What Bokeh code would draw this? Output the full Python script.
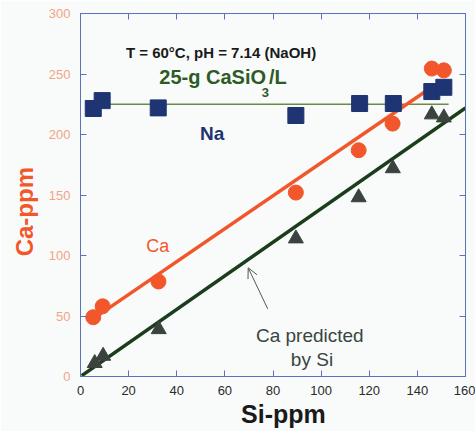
import math
from bokeh.plotting import figure
from bokeh.models import Range1d, LinearAxis, Label, Arrow, OpenHead, FixedTicker, Title
from bokeh.embed import file_html
from bokeh.resources import INLINE

# ---- data ----
si_ca = [5.3, 9.2, 32.4, 89.5, 115.6, 129.7, 146.0, 151.0]
ca_ppm = [49, 58, 78.5, 152, 187, 209, 254.5, 253]

si_pred = [5.9, 9.4, 32.5, 89.5, 115.6, 129.8, 146.0, 151.0]
ca_pred = [11, 17, 39, 114, 148, 172, 216.5, 214]

si_na = [5.3, 9.0, 32.3, 89.5, 116.0, 130.0, 146.0, 151.0]
na_ppm = [221.5, 228, 222, 215.7, 225.6, 225.6, 235.5, 239]

ca_fit_x = [4, 145]
ca_fit_y = [46, 237.8]
pred_fit_x = [0.5, 160]
pred_fit_y = [0.7, 222]
na_fit_x = [3, 153]
na_fit_y = [225, 225]

x_ticks = [0, 20, 40, 60, 80, 100, 120, 140, 160]
y_ticks = [0, 50, 100, 150, 200, 250, 300]

BG = "#f8fbfa"
AXC = "#5b72c0"
ORANGE = "#f2572c"
NAVY = "#1f3473"
TRI = "#3b433f"
DKGREEN = "#1b3d1c"
NB = "\u00a0"

p = figure(width=475, height=431, output_backend="svg", toolbar_location=None,
           x_range=Range1d(0, 160), y_range=Range1d(0, 300),
           min_border_left=79, min_border_right=10, min_border_top=13, min_border_bottom=55)
p.background_fill_color = BG
p.border_fill_color = BG
p.outline_line_color = AXC
p.outline_line_width = 1
p.xgrid.visible = False
p.ygrid.visible = False

def style_axis(ax, ticks, show_labels, color):
    ax.ticker = FixedTicker(ticks=ticks)
    ax.major_tick_in = 6
    ax.major_tick_out = 0
    ax.minor_tick_line_color = None
    ax.major_tick_line_color = AXC
    ax.axis_line_color = AXC
    ax.major_label_text_font = "Liberation Sans"
    ax.major_label_text_font_size = "13px"
    ax.major_label_text_color = color
    if not show_labels:
        ax.major_label_text_alpha = 0
        ax.major_label_text_font_size = "1px"

style_axis(p.xaxis[0], x_ticks, True, "#2a2a2a")
p.xaxis[0].major_label_standoff = 9
style_axis(p.yaxis[0], y_ticks, True, "#f4a383")
p.yaxis[0].major_label_standoff = 10

top = LinearAxis()
style_axis(top, x_ticks, False, "#000")
p.add_layout(top, "above")
right = LinearAxis()
style_axis(right, y_ticks, False, "#000")
p.add_layout(right, "right")

# axis titles as Titles (outside the frame)
xt = Title(text=NB * 3 + "Si-ppm", align="center", text_font="Liberation Sans",
           text_font_size="25px", text_font_style="bold", text_color="#1a1a1a", standoff=0)
p.add_layout(xt, "below")
yt = Title(text="Ca-ppm" + NB * 5, align="center", text_font="Liberation Sans",
           text_font_size="24px", text_font_style="bold", text_color=ORANGE, standoff=16)
p.add_layout(yt, "left")

# lines
p.line(na_fit_x, na_fit_y, line_color="#6b8a45", line_width=1.5)
p.line(ca_fit_x, ca_fit_y, line_color=ORANGE, line_width=3.5)
p.line(pred_fit_x, pred_fit_y, line_color=DKGREEN, line_width=3.5)

# markers
p.scatter(si_ca, ca_ppm, marker="circle", size=15, fill_color=ORANGE, line_color=ORANGE)
p.scatter(si_pred, ca_pred, marker="triangle", size=15, fill_color=TRI, line_color=TRI)
p.scatter(si_na, na_ppm, marker="square", size=16, fill_color=NAVY, line_color=NAVY)

def lab(x, y, text, size, color, bold=True, align="left", angle=0):
    p.add_layout(Label(x=x, y=y, text=text, text_font="Liberation Sans",
                       text_font_size=size, text_color=color,
                       text_font_style="bold" if bold else "normal",
                       text_align=align, text_baseline="alphabetic", angle=angle))

lab(58.4, 267.8, "T = 60°C, pH = 7.14 (NaOH)", "15px", "#1a1a1a", True, "center")
lab(77.1, 247.4, "25-g CaSiO", "20px", "#2e5a26", True, "right")
lab(75.3, 235.0, "3", "13px", "#2e5a26", True, "left")
lab(78.3, 247.4, "/L", "20px", "#2e5a26", True, "left")
lab(54.7, 200.8, "Na", "19px", NAVY, True, "center")
lab(32.1, 107.7, "Ca", "18px", ORANGE, False, "center")
lab(95.3, 33.9, "Ca predicted", "19px", "#3a4440", False, "center")
lab(96.2, 14.0, "by Si", "19px", "#3a4440", False, "center")

# arrow
p.add_layout(Arrow(end=OpenHead(size=10, line_color="#4d5a4d", line_width=1),
                   x_start=77.8, y_start=55.9, x_end=69.7, y_end=89.8,
                   line_color="#4d5a4d", line_width=1))

open("out.html", "w").write(file_html(p, INLINE))
